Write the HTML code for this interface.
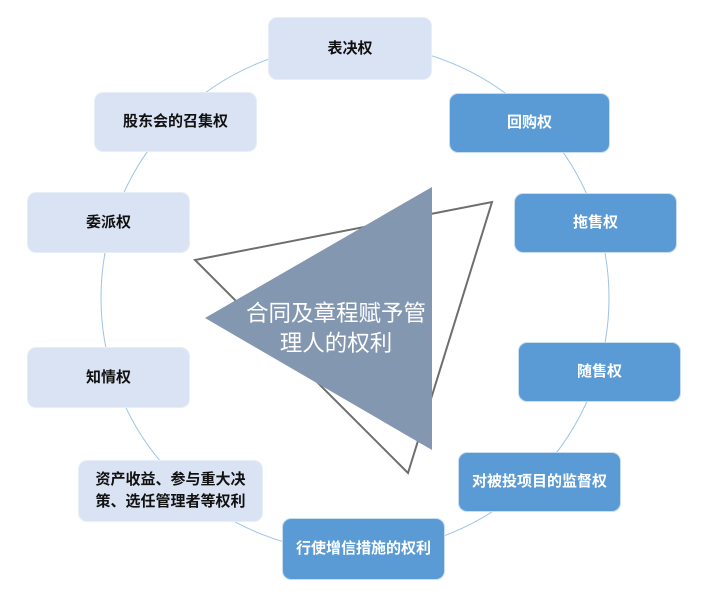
<!DOCTYPE html>
<html><head><meta charset="utf-8"><style>
body{margin:0;width:710px;height:599px;background:#fff;overflow:hidden;position:relative;font-family:"Liberation Sans","Noto Sans CJK SC",sans-serif}
.b{position:absolute;border-radius:9px;display:flex;align-items:center;justify-content:center;text-align:center;font-weight:bold;font-size:15px;line-height:22px;box-sizing:border-box}
.l{background:#dae3f3;color:#111;border:1px solid #e8eef8}
.d{background:#5b9bd5;color:#fff;border:1px solid #c9ddf0}
</style></head><body>
<svg width="710" height="599" style="position:absolute;left:0;top:0">
<circle cx="355" cy="298" r="254" fill="none" stroke="#9dc3e6" stroke-width="1"/>
<polygon points="195,260 492,202 408,473" fill="none" stroke="#6e6e6e" stroke-width="2"/>
<polygon points="432,187 432,450 205,318" fill="#8497b0"/>
<text x="336" y="321" fill="#fff" font-size="22.5" text-anchor="middle" font-family="Liberation Sans,Noto Sans CJK SC,sans-serif">合同及章程赋予管</text>
<text x="336" y="351" fill="#fff" font-size="22.5" text-anchor="middle" font-family="Liberation Sans,Noto Sans CJK SC,sans-serif">理人的权利</text>
</svg>
<div class="b l" style="left:268px;top:17px;width:164px;height:63px">表决权</div>
<div class="b d" style="left:449px;top:93px;width:161px;height:60px">回购权</div>
<div class="b d" style="left:514px;top:193px;width:163px;height:60px">拖售权</div>
<div class="b d" style="left:518px;top:342px;width:163px;height:60px">随售权</div>
<div class="b d" style="left:458px;top:452px;width:163px;height:60px">对被投项目的监督权</div>
<div class="b d" style="left:282px;top:518px;width:163px;height:62px">行使增信措施的权利</div>
<div class="b l" style="left:78px;top:460px;width:185px;height:62px">资产收益、参与重大决<br>策、选任管理者等权利</div>
<div class="b l" style="left:27px;top:347px;width:163px;height:61px">知情权</div>
<div class="b l" style="left:27px;top:192px;width:163px;height:61px">委派权</div>
<div class="b l" style="left:94px;top:92px;width:163px;height:60px">股东会的召集权</div>
</body></html>
